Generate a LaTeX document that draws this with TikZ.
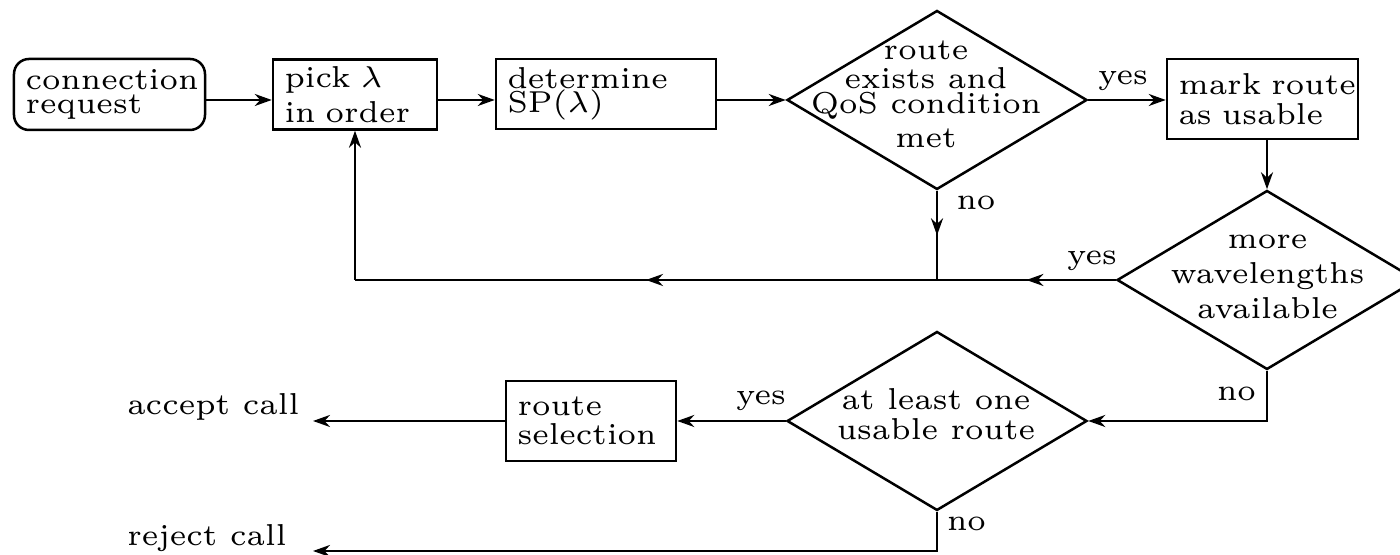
\documentclass[tikz,border=0pt]{standalone}
\usetikzlibrary{shapes.geometric,arrows.meta,decorations.markings}
\normallineskiplimit=-10pt
\lineskiplimit=-10pt
\tikzset{
  box/.style={draw, rectangle, inner xsep=2.3pt, inner ysep=0pt, align=left},
  rbox/.style={box, rounded corners=3pt},
  dia/.style={draw, diamond, inner sep=0pt, minimum width=60pt, minimum height=35.8pt},
  dtext/.style={inner sep=0pt, align=center},
  lbl/.style={inner sep=0pt, anchor=base},
  mid/.style={postaction={decorate}, decoration={markings, mark=at position 0.5 with {\arrow{>}}}}
}
\begin{document}
\begin{tikzpicture}[x=0.2pt, y=-0.2pt, line width=0.5pt,
  >={Stealth[length=3.4pt, width=2.4pt, inset=1.1pt]},
  font=\fontsize{6.05pt}{4.8pt}\selectfont]
\useasboundingbox (0, 0) rectangle (1400, 555);
\node[rbox, text width=33.6pt, minimum height=14.2pt] at (109.5, 94.5) (conn) {connection\\request};
\node[box, text width=28.2pt, minimum height=14pt] at (355, 94.5) (pick) {pick~$\lambda$\\[2.2pt]in~order};
\node[box, text width=39.4pt, minimum height=14pt] at (606, 94) (det) {determine\\SP($\lambda$)};
\node[box, text width=33.6pt, minimum height=16pt] at (1262.5, 99) (mark) {mark~route\\[1.2pt]as~usable};
\node[box, text width=29.4pt, minimum height=16pt] at (591, 421) (sel) {route\\[1pt]selection};
\node[dia] at (937, 100) (d1) {};
\node[dia] at (1267, 280) (d2) {};
\node[dia] at (937, 421) (d3) {};
\node[dtext] at (926, 94.7) (t1) {route\\[1pt]exists and\\[0.2pt]QoS condition\\[2pt]met};
\node[dtext] at (1267.5, 276.5) (t2) {more\\[2.2pt]wavelengths\\[2.2pt]available};
\node[dtext] at (936, 414.5) (t3) {at least one\\[1.2pt]usable route};
\node[lbl] at (1123, 85) (y1) {yes};
\node[lbl] at (976, 210) (n1) {no};
\node[lbl] at (1092, 265) (y2) {yes};
\node[lbl] at (1236.5, 401) (n2) {no};
\node[lbl] at (761, 405) (y3) {yes};
\node[lbl] at (966.5, 531) (n3) {no};
\node[lbl, anchor=base west] at (126, 415) (acc) {accept call};
\node[lbl, anchor=base west] at (126, 546) (rej) {reject call};
\coordinate (j) at (d1 |- d2.west);
\coordinate (ae) at (313, 421);
\coordinate (re) at (313, 551);
\path[->] (conn.east |- d1) edge (pick.west |- d1)
          (pick.east |- d1) edge (det.west |- d1)
          (det.east |- d1) edge (d1.west)
          (d1.east) edge (mark.west |- d1)
          (mark.south -| d2) edge (d2.north)
          (d3.west) edge (sel.east)
          (sel.west) edge (ae);
\draw[->] (d2.south) |- (d3.east);
\draw[->] (d3.south) |- (re);
\draw[mid] (d1.south) -- (j);
\draw[mid] (d2.west) -- (j);
\draw[mid] (j) -- (pick.south |- j);
\draw[->] (pick.south |- j) -- (pick.south);
\end{tikzpicture}
\end{document}
